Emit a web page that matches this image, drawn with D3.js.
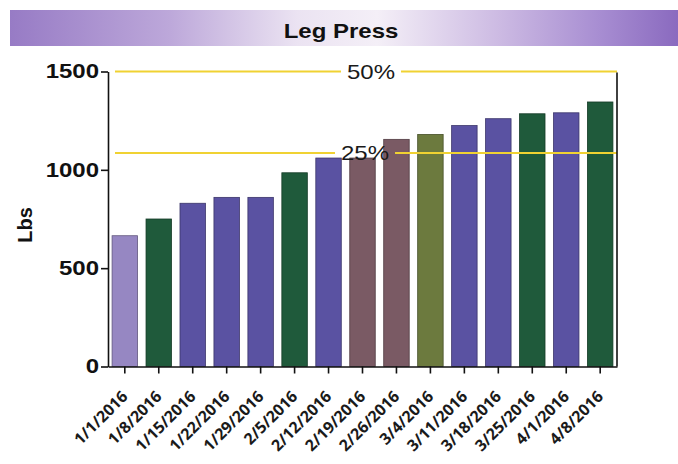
<!DOCTYPE html>
<html>
<head>
<meta charset="utf-8">
<script src="https://d3js.org/d3.v7.min.js"></script>
<style>
  html, body { margin: 0; padding: 0; background: #ffffff; }
  svg { display: block; }
</style>
</head>
<body>
<div id="chart"></div>
<script>
// Weekly leg press results (lbs)
const dates = ["1/1/2016", "1/8/2016", "1/15/2016", "1/22/2016", "1/29/2016", "2/5/2016",
  "2/12/2016", "2/19/2016", "2/26/2016", "3/4/2016", "3/11/2016", "3/18/2016",
  "3/25/2016", "4/1/2016", "4/8/2016"];
const lbs = [665, 750, 830, 860, 860, 985, 1060, 1060, 1155, 1180, 1225, 1260, 1285, 1290, 1345];
const yTicks = [0, 500, 1000, 1500];

// Goal lines
const goalLabels = ["25%", "50%"];
const goalValues = [1085, 1500];

// Bar fills, one per week
const barColors = ["#9687c2", "#1f5a3b", "#5a52a2", "#5a52a2", "#5a52a2", "#1f5a3b", "#5a52a2",
  "#7a5a64", "#7a5a64", "#6c7a3e", "#5a52a2", "#5a52a2", "#1f5a3b", "#5a52a2", "#1f5a3b"];

const W = 678, H = 464;
const left = 108, right = 617, baseY = 366.5, topY = 71.5;
const HSTRETCH = 1.2;

const svg = d3.select("#chart").append("svg").attr("width", W).attr("height", H);

// Title banner
const defs = svg.append("defs");
const grad = defs.append("linearGradient").attr("id", "banner").attr("x1", "0").attr("x2", "1").attr("y1", "0").attr("y2", "0");
[[0, "#977bc5"], [0.24, "#bda8da"], [0.43, "#ebe3f2"], [0.55, "#f4eff7"], [0.73, "#cdbbe3"], [0.88, "#a88ed2"], [1, "#8a6abf"]]
  .forEach(([o, c]) => grad.append("stop").attr("offset", o).attr("stop-color", c));
svg.append("rect").attr("x", 10).attr("y", 10).attr("width", W - 10).attr("height", 36).attr("fill", "url(#banner)");
svg.append("text")
  .attr("transform", `translate(341,37.5) scale(${HSTRETCH},1)`)
  .attr("text-anchor", "middle")
  .style("font-family", "'Liberation Sans', Arial, sans-serif")
  .style("font-weight", "bold").style("font-size", "20px").attr("fill", "#111")
  .text("Leg Press");

const x = d3.scaleBand().domain(dates).range([left, right]).paddingInner(0.25).paddingOuter(0.12);
const y = d3.scaleLinear().domain([0, 1500]).range([baseY, topY]);

// Bars
svg.append("g").selectAll("rect").data(dates).join("rect")
  .attr("x", d => x(d))
  .attr("width", x.bandwidth())
  .attr("y", (d, i) => y(lbs[i]))
  .attr("height", (d, i) => y(0) - y(lbs[i]))
  .attr("fill", (d, i) => barColors[i])
  .attr("stroke", (d, i) => d3.color(barColors[i]).darker(1.2))
  .attr("stroke-width", 0.8);

// Goal lines with a gap around their labels, drawn over the bars
const goalLines = svg.append("g");
const goalText = svg.append("g");
const labelCenters = [365, 371];
goalValues.forEach((v, i) => {
  const gy = y(v);
  const t = goalText.append("text")
    .attr("transform", `translate(${labelCenters[i]},${gy}) scale(${HSTRETCH},1)`)
    .attr("text-anchor", "middle").attr("dy", "0.36em")
    .style("font-family", "'Liberation Sans', Arial, sans-serif")
    .style("font-size", "20px").attr("fill", "#1a1a1a")
    .text(goalLabels[i]);
  const half = t.node().getBBox().width * HSTRETCH / 2;
  const gx0 = labelCenters[i] - half - 6, gx1 = labelCenters[i] + half + 6;
  [[left + 7, gx0], [gx1, right]].forEach(([a, b]) => {
    goalLines.append("line")
      .attr("x1", a).attr("x2", b).attr("y1", gy).attr("y2", gy)
      .attr("stroke", "#f0d232").attr("stroke-width", 2);
  });
});

// Y axis
const yAxis = svg.append("g").attr("transform", `translate(${left},0)`)
  .call(d3.axisLeft(y).tickValues(yTicks).tickFormat(d3.format("d")).tickSize(7).tickSizeOuter(0).tickPadding(0.5));
yAxis.selectAll("path, line").attr("stroke", "#111").attr("stroke-width", 1.6);
yAxis.selectAll("text")
  .attr("transform", `scale(${HSTRETCH},1)`)
  .style("font-family", "'Liberation Sans', Arial, sans-serif")
  .style("font-weight", "bold").style("font-size", "20px").attr("fill", "#111");

// Right frame edge
svg.append("line").attr("x1", right).attr("x2", right).attr("y1", y(1500) + 1).attr("y2", baseY)
  .attr("stroke", "#111").attr("stroke-width", 1.6);

// X axis
const xAxis = svg.append("g").attr("transform", `translate(0,${baseY})`)
  .call(d3.axisBottom(x).tickSize(7).tickSizeOuter(0));
xAxis.selectAll("path, line").attr("stroke", "#111").attr("stroke-width", 1.6);
xAxis.selectAll("text")
  .attr("y", 0).attr("dy", 0)
  .attr("text-anchor", "end")
  .attr("transform", "translate(4,31) rotate(-45)")
  .style("font-family", "'Open Sans', sans-serif")
  .style("font-weight", "700").style("font-size", "16px").attr("fill", "#1a1a1a");

// Y axis title
svg.append("text")
  .attr("transform", "translate(25,225) rotate(-90)")
  .attr("text-anchor", "middle").attr("dy", "0.36em")
  .style("font-family", "'Liberation Sans', Arial, sans-serif")
  .style("font-weight", "bold").style("font-size", "20px").attr("fill", "#111")
  .text("Lbs");
</script>
</body>
</html>
